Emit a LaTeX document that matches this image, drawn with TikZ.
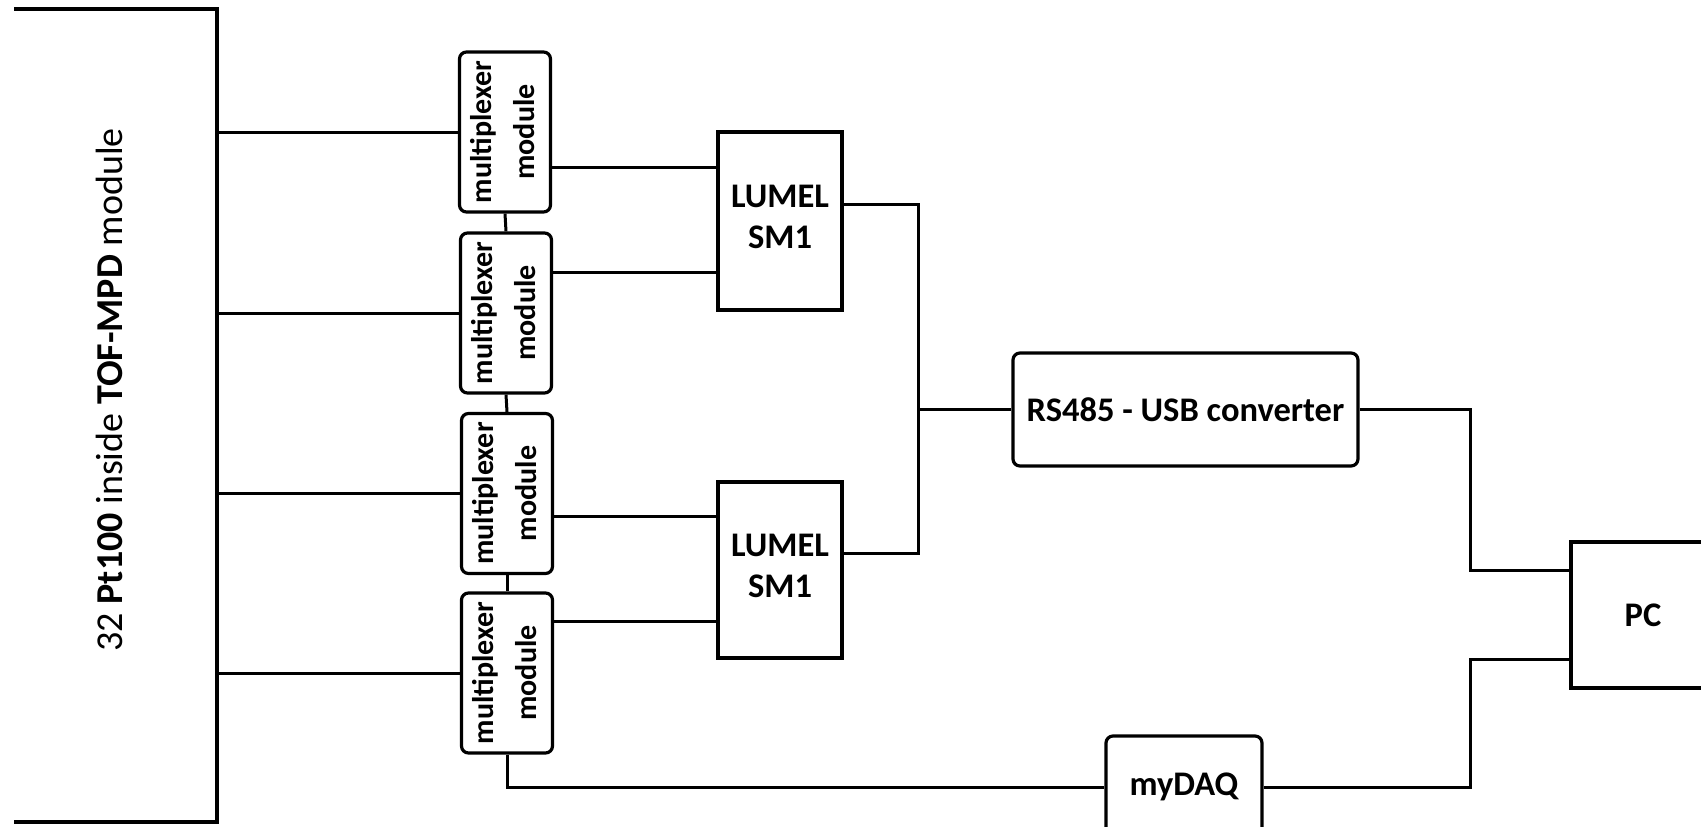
\documentclass[tikz,border=0pt]{standalone}
\usepackage{fontspec}
\setmainfont{Carlito}
\begin{document}
\begin{tikzpicture}[x=1pt,y=-1pt,
  box/.style={draw, line width=3.2pt, inner sep=0pt, rectangle},
  rbox/.style={box, rounded corners=7pt},
  wire/.style={line width=3pt},
  lbl/.style={font=\fontsize{34.5}{41}\selectfont\bfseries, align=center, inner sep=0pt},
  muxlbl/.style={rotate=90, font=\fontsize{30}{43}\selectfont\bfseries, align=center, inner sep=0pt},
  muxbox/.style={rbox, minimum width=91pt, minimum height=160pt}]
\useasboundingbox (0,0) rectangle (1701,827);
% big TOF-MPD box (left side outside the picture)
\coordinate (tofTL) at (14,9);
\coordinate (tofTR) at (217,9);
\coordinate (tofBR) at (217,822);
\coordinate (tofBL) at (14,822);
\draw[line width=4pt] (tofTL) -- (tofTR) -- (tofBR) -- (tofBL);
\node[rotate=90, font=\fontsize{38}{44}\selectfont, inner sep=0pt] (toftext) at (109,390)
  {32 \textbf{Pt100} inside \textbf{TOF-MPD} module};
% multiplexer modules
\node[muxbox] (m1) at (505,132) {};
\node[muxbox] (m2) at (506,313) {};
\node[muxbox] (m3) at (507,493.5) {};
\node[muxbox] (m4) at (507,673) {};
\node[muxlbl] (t1) at ([xshift=-2pt]m1) {multiplexer\\module};
\node[muxlbl] (t2) at ([xshift=-2pt]m2) {multiplexer\\module};
\node[muxlbl] (t3) at ([xshift=-2pt]m3) {multiplexer\\module};
\node[muxlbl] (t4) at ([xshift=-2pt]m4) {multiplexer\\module};
% LUMEL
\node[box, minimum width=124pt, minimum height=178pt] (l1) at (780,221) {};
\node[box, minimum width=124pt, minimum height=176pt] (l2) at (780,570) {};
\node[lbl] (l1t) at (780,217) {LUMEL\\SM1};
\node[lbl] (l2t) at (780,566) {LUMEL\\SM1};
% RS485
\node[rbox, minimum width=345pt, minimum height=113pt, lbl] (rs) at (1185.5,409.5) {RS485 - USB converter};
% PC
\node[box, minimum width=144pt, minimum height=146pt, lbl] (pc) at (1643,615) {PC};
% myDAQ
\node[rbox, minimum width=156pt, minimum height=102pt, lbl] (daq) at (1184,787) {myDAQ};
% inputs from big box
\draw[wire] (tofTR |- m1.west) -- (m1.west);
\draw[wire] (tofTR |- m2.west) -- (m2.west);
\draw[wire] (tofTR |- m3.west) -- (m3.west);
\draw[wire] (tofTR |- m4.west) -- (m4.west);
% chain between modules
\draw[wire] (m1.south) -- (m2.north);
\draw[wire] (m2.south) -- (m3.north);
\draw[wire] (m3.south) -- (m4.north);
% module outputs to LUMEL
\coordinate (m1o) at ([yshift=-35pt]m1.east);
\coordinate (m2o) at ([yshift=41pt]m2.east);
\coordinate (m3o) at ([yshift=-22.5pt]m3.east);
\coordinate (m4o) at ([yshift=52pt]m4.east);
\draw[wire] (m1o) -- (m1o -| l1.west);
\draw[wire] (m2o) -- (m2o -| l1.west);
\draw[wire] (m3o) -- (m3o -| l2.west);
\draw[wire] (m4o) -- (m4o -| l2.west);
% LUMEL outputs to bus
\coordinate (l1o) at ([yshift=17pt]l1.east);
\coordinate (l2o) at ([yshift=17pt]l2.east);
\coordinate (bus) at (918,409.5);
\draw[wire] (l1o) -- (l1o -| bus) -- (l2o -| bus) -- (l2o);
\draw[wire] (bus) -- (rs.west);
% to PC
\coordinate (j1) at (1470,0);
\coordinate (pchi) at ([yshift=45pt]pc.west);
\coordinate (pclo) at ([yshift=-44pt]pc.west);
\draw[wire] (rs.east) -- (rs.east -| j1) -- (pchi -| j1) -- (pchi);
\draw[wire] (daq.east) -- (daq.east -| j1) -- (pclo -| j1) -- (pclo);
\draw[wire] (m4.south) |- (daq.west);
\end{tikzpicture}
\end{document}
